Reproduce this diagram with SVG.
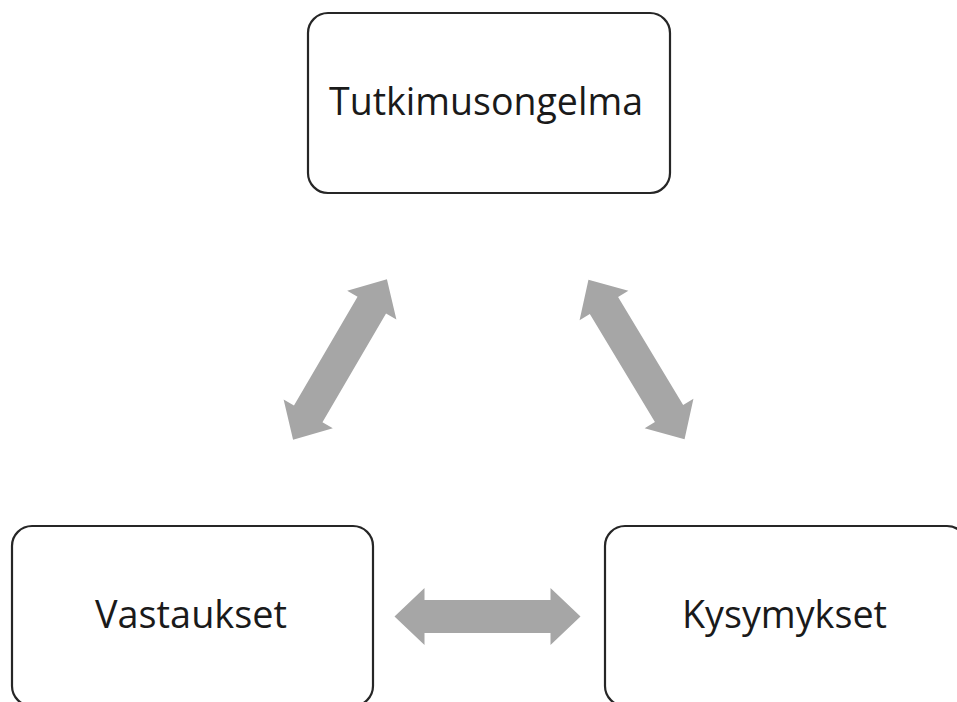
<svg xmlns="http://www.w3.org/2000/svg" width="957" height="702" viewBox="0 0 957 702">
<style>
.box{fill:#ffffff;stroke:#262626;stroke-width:2.2}
.lbl{font-family:"Open Sans","Liberation Sans",sans-serif;font-size:39px;fill:#1a1a1a;text-anchor:middle}
.arr{fill:#a6a6a6}
</style>
<defs>
<polygon id="dbl" points="-93,0 -63,-28.5 -63,-16.5 63,-16.5 63,-28.5 93,0 63,28.5 63,16.5 -63,16.5 -63,28.5"/>
</defs>
<rect width="957" height="702" fill="#ffffff"/>
<g id="connectors">
<use href="#dbl" class="arr" transform="translate(340,359.5) rotate(-59.7)"/>
<use href="#dbl" class="arr" transform="translate(636.5,359.5) rotate(58.9)"/>
<use href="#dbl" class="arr" transform="translate(487.5,616.5)"/>
</g>
<g id="tutkimusongelma">
<rect class="box" x="308" y="13" width="362" height="180" rx="20"/>
<text class="lbl" x="486" y="115" textLength="314" lengthAdjust="spacingAndGlyphs">Tutkimusongelma</text>
</g>
<g id="vastaukset">
<rect class="box" x="12" y="526" width="361" height="180" rx="20"/>
<text class="lbl" x="191" y="628" textLength="192" lengthAdjust="spacingAndGlyphs">Vastaukset</text>
</g>
<g id="kysymykset">
<rect class="box" x="605" y="526" width="362" height="180" rx="20"/>
<text class="lbl" x="784.5" y="628" textLength="205" lengthAdjust="spacingAndGlyphs">Kysymykset</text>
</g>
</svg>
